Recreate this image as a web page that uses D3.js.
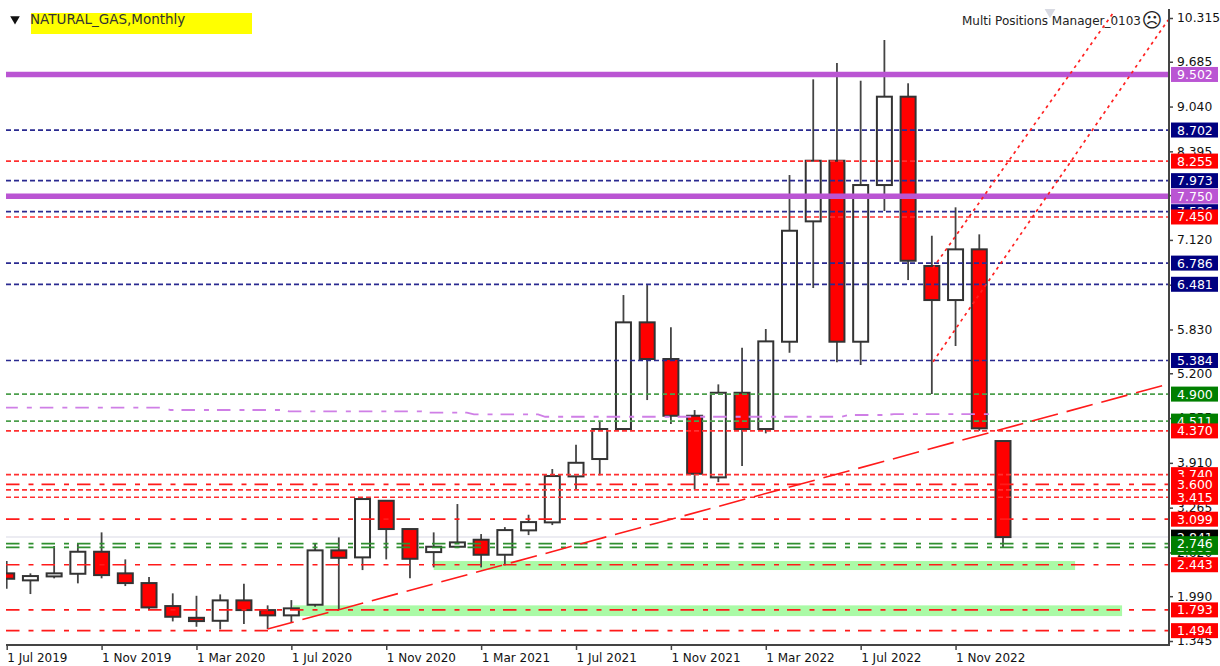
<!DOCTYPE html>
<html>
<head>
<meta charset="utf-8">
<script src="https://cdnjs.cloudflare.com/ajax/libs/d3/7.8.5/d3.min.js"></script>
<style>
  html, body { margin: 0; padding: 0; background: #fff; }
  svg { display: block; }
  text { font-family: "DejaVu Sans", sans-serif; }
</style>
</head>
<body>
<svg id="chart" width="1220" height="666"></svg>
<script>
// monthly candles, Jul 2019 to Jan 2023
const months = ["1 Jul 2019","1 Aug 2019","1 Sep 2019","1 Oct 2019","1 Nov 2019","1 Dec 2019",
  "1 Jan 2020","1 Feb 2020","1 Mar 2020","1 Apr 2020","1 May 2020","1 Jun 2020","1 Jul 2020","1 Aug 2020","1 Sep 2020","1 Oct 2020","1 Nov 2020","1 Dec 2020",
  "1 Jan 2021","1 Feb 2021","1 Mar 2021","1 Apr 2021","1 May 2021","1 Jun 2021","1 Jul 2021","1 Aug 2021","1 Sep 2021","1 Oct 2021","1 Nov 2021","1 Dec 2021",
  "1 Jan 2022","1 Feb 2022","1 Mar 2022","1 Apr 2022","1 May 2022","1 Jun 2022","1 Jul 2022","1 Aug 2022","1 Sep 2022","1 Oct 2022","1 Nov 2022","1 Dec 2022",
  "1 Jan 2023"];
const opens = [2.319,2.218,2.275,2.313,2.630,2.319,2.179,1.848,1.679,1.636,1.930,1.790,1.714,1.867,2.650,2.549,3.364,2.957,
  2.625,2.702,2.803,2.587,2.938,3.053,3.715,3.965,4.397,5.933,5.405,4.588,
  3.701,4.919,4.397,5.654,7.387,8.260,5.654,7.910,9.182,6.744,6.254,6.984,4.224];
const highs = [2.496,2.319,2.712,2.751,2.909,2.520,2.265,2.031,1.996,2.016,2.169,1.858,1.934,2.751,2.837,3.389,3.364,2.957,
  2.909,3.317,2.885,2.985,3.163,3.821,4.171,4.516,6.326,6.470,5.861,4.670,
  5.040,5.567,5.837,8.054,9.432,9.667,9.412,9.998,9.375,7.180,7.589,7.200,4.224];
const lows = [2.097,2.021,2.247,2.175,2.247,2.136,1.800,1.627,1.550,1.512,1.589,1.517,1.607,1.838,1.805,2.366,2.520,2.247,
  2.405,2.683,2.405,2.434,2.870,3.014,3.528,3.730,4.370,4.814,4.469,3.528,
  3.633,3.864,4.335,5.495,6.427,5.357,5.318,7.536,6.542,4.901,5.592,4.372,2.693];
const closes = [2.241,2.280,2.319,2.630,2.294,2.179,1.829,1.694,1.632,1.930,1.790,1.714,1.815,2.650,2.543,3.389,2.957,2.529,
  2.702,2.765,2.587,2.942,3.057,3.720,3.911,4.397,5.933,5.405,4.588,3.753,
  4.919,4.397,5.659,7.252,8.260,5.654,7.910,9.182,6.820,6.254,6.984,4.407,2.841];

const priceTicks = [10.315,9.685,9.040,8.395,7.765,7.120,6.475,5.830,5.200,4.555,3.910,3.265,2.620,1.990,1.345];

// horizontal levels, label order is the stacking order on the right
const purpleLevels = [9.502,7.750];
const navyLevels = [8.702,7.973,7.526,6.786,6.481,5.384];
const redDashLevels = [8.255,7.450,4.370,3.740,3.520,3.415];
const redLongLevels = [3.600,3.099,2.443,1.793,1.494];
const greenDashLevels = [4.900,4.511];
const greenLongLevels = [2.693,2.746];
const lastPrice = 2.841;

// bar index / price pairs
const trendMain = [[11,1.517],[48.96,5.045]];
const channelLow = [[39.05,5.366],[48.96,10.286]];
const channelHigh = [[39.05,6.715],[46.64,10.387]];
const purpleStepIdx = [-0.1,6.6,6.9,11.6,11.9,17.5,17.8,19.4,19.7,22.4,22.7,35.2,35.5,37.1,37.4,41.6];
const purpleStepPrice = [4.704,4.704,4.671,4.671,4.652,4.652,4.632,4.632,4.609,4.609,4.574,4.574,4.599,4.599,4.613,4.613];
const zoneIdx = [[18,45.04],[12.07,47.02]];
const zonePrice = [[2.496,2.367],[1.858,1.704]];

const svg = d3.select("#chart");
const plotLeft = 6, plotRight = 1169, plotTop = 9, plotBottom = 645;

const x = d3.scaleLinear().domain([0, 42]).range([6.7, 1003]);
const y = d3.scaleLinear().domain([1.345, 10.315]).range([641, 18]);

svg.append("clipPath").attr("id", "plot").append("rect")
  .attr("x", plotLeft).attr("y", plotTop)
  .attr("width", plotRight - plotLeft).attr("height", plotBottom - plotTop);

const plot = svg.append("g").attr("clip-path", "url(#plot)");

// green zones sit behind the candles
plot.selectAll("rect.zone")
  .data(zoneIdx)
  .enter()
  .append("rect")
  .attr("class", "zone")
  .attr("x", d => x(d[0]))
  .attr("width", d => x(d[1]) - x(d[0]))
  .attr("y", (d, i) => y(zonePrice[i][0]))
  .attr("height", (d, i) => y(zonePrice[i][1]) - y(zonePrice[i][0]))
  .attr("fill", "#aafaa6");

// current price line
plot.append("line")
  .attr("x1", plotLeft).attr("x2", plotRight)
  .attr("y1", y(lastPrice)).attr("y2", y(lastPrice))
  .attr("stroke", "#e6e6ee").attr("stroke-width", 1.5);

// candles
const bodyWidth = 15;
const candles = plot.selectAll("g.candle")
  .data(months)
  .enter()
  .append("g")
  .attr("class", "candle");

candles.append("line")
  .attr("x1", (d, i) => x(i)).attr("x2", (d, i) => x(i))
  .attr("y1", (d, i) => y(highs[i])).attr("y2", (d, i) => y(lows[i]))
  .attr("stroke", "#444").attr("stroke-width", 1.8);

candles.append("rect")
  .attr("x", (d, i) => x(i) - bodyWidth / 2)
  .attr("width", bodyWidth)
  .attr("y", (d, i) => y(Math.max(opens[i], closes[i])))
  .attr("height", (d, i) => Math.abs(y(opens[i]) - y(closes[i])))
  .attr("fill", (d, i) => closes[i] < opens[i] ? "#ff0000" : "#ffffff")
  .attr("stroke", "#333").attr("stroke-width", 2);

// levels
const longDash = "13.5 9 5 8";
const levelStyles = [
  { levels: greenDashLevels, color: "#4c9f4c", dash: "5 3", width: 1.7, box: "#007f00" },
  { levels: navyLevels, color: "#2a2a90", dash: "5 3", width: 1.7, box: "#000080" },
  { levels: redDashLevels, color: "#ff3030", dash: "5 3", width: 1.7, box: "#ff0000" },
  { levels: redLongLevels, color: "#ff1a1a", dash: longDash, width: 1.7, box: "#ff0000" },
  { levels: greenLongLevels, color: "#2f8f2f", dash: longDash, width: 1.7, box: "#007f00" },
  { levels: purpleLevels, color: "#ba55d3", dash: null, width: 5.5, box: "#ba55d3" }
];

levelStyles.forEach(function (s) {
  plot.selectAll(null)
    .data(s.levels)
    .enter()
    .append("line")
    .attr("x1", plotLeft).attr("x2", plotRight)
    .attr("y1", d => y(d)).attr("y2", d => y(d))
    .attr("stroke", s.color)
    .attr("stroke-width", s.width)
    .attr("stroke-dasharray", s.dash);
});

// thin purple stepped line
const purpleLine = d3.line().x(d => x(d)).y((d, i) => y(purpleStepPrice[i]));
plot.append("path")
  .attr("d", purpleLine(purpleStepIdx))
  .attr("fill", "none")
  .attr("stroke", "#cf7fe6").attr("stroke-width", 1.8)
  .attr("stroke-dasharray", longDash);

// trend lines
const trend = d3.line().x(d => x(d[0])).y(d => y(d[1]));
plot.append("path")
  .attr("d", trend(trendMain))
  .attr("fill", "none")
  .attr("stroke", "#ff1a1a").attr("stroke-width", 1.6)
  .attr("stroke-dasharray", "27 9");
[channelLow, channelHigh].forEach(function (c) {
  plot.append("path")
    .attr("d", trend(c))
    .attr("fill", "none")
    .attr("stroke", "#ff2020").attr("stroke-width", 1.7)
    .attr("stroke-dasharray", "3 4");
});

// axes
const axisColor = "#444";
const yAxis = svg.append("g")
  .attr("transform", "translate(" + plotRight + ",0)")
  .call(d3.axisRight(y).tickValues(priceTicks).tickFormat(d3.format(".3f")).tickSize(4).tickPadding(4));
yAxis.select(".domain").remove();
yAxis.selectAll("line").attr("stroke", axisColor).attr("stroke-width", 1.5);
yAxis.selectAll("text").attr("font-size", 12.3).attr("fill", "#111")
  .attr("font-family", "DejaVu Sans");

const xAxis = svg.append("g")
  .attr("transform", "translate(0," + plotBottom + ")")
  .call(d3.axisBottom(x)
    .tickValues(d3.range(0, 43, 4))
    .tickFormat(i => months[i])
    .tickSize(5).tickPadding(3));
xAxis.select(".domain").remove();
xAxis.selectAll("line").attr("stroke", axisColor).attr("stroke-width", 1.5);
xAxis.selectAll("text").attr("font-size", 12).attr("fill", "#111")
  .attr("font-family", "DejaVu Sans")
  .attr("text-anchor", "start");

svg.append("path")
  .attr("d", d3.line()([[plotLeft, plotBottom], [plotRight, plotBottom], [plotRight, plotTop]]))
  .attr("fill", "none").attr("stroke", axisColor).attr("stroke-width", 2);

// price labels on the right, later ones cover earlier ones
const labelList = [{ v: lastPrice, box: "#000000" }];
[1, 0].forEach(i => levelStyles[i].levels.forEach(v => labelList.push({ v: v, box: levelStyles[i].box })));
greenLongLevels.forEach(v => labelList.push({ v: v, box: "#007f00" }));
[3.740, 3.520, 3.415, 3.600, 8.255, 7.450, 4.370, 3.099, 2.443, 1.793, 1.494]
  .forEach(v => labelList.push({ v: v, box: "#ff0000" }));
purpleLevels.forEach(v => labelList.push({ v: v, box: "#ba55d3" }));

const labels = svg.selectAll("g.label")
  .data(labelList)
  .enter()
  .append("g")
  .attr("class", "label")
  .attr("transform", d => "translate(1171," + y(d.v) + ")");

labels.append("rect")
  .attr("x", 0).attr("y", -7.5)
  .attr("width", 47).attr("height", 15)
  .attr("fill", d => d.box);

labels.append("text")
  .attr("x", 6).attr("y", 0).attr("dy", "0.36em")
  .attr("font-size", 12.5)
  .attr("fill", "#fff")
  .text(d => d3.format(".3f")(d.v));

// header
svg.append("path")
  .attr("d", d3.symbol().type(d3.symbolTriangle).size(40)())
  .attr("transform", "translate(15,19) rotate(180)")
  .attr("fill", "#111");
svg.append("rect")
  .attr("x", 31).attr("y", 13).attr("width", 221).attr("height", 21)
  .attr("fill", "#ffff00");
svg.append("text")
  .attr("x", 30).attr("y", 24)
  .attr("font-size", 13.5).attr("fill", "#333")
  .text("NATURAL_GAS,Monthly");

svg.append("path")
  .attr("d", d3.symbol().type(d3.symbolTriangle).size(50)())
  .attr("transform", "translate(1050,12) rotate(180)")
  .attr("fill", "#d8dae2");
svg.append("text")
  .attr("x", 1141).attr("y", 25)
  .attr("text-anchor", "end")
  .attr("font-size", 12).attr("fill", "#222")
  .text("Multi Positions Manager_0103");
svg.append("text")
  .attr("x", 1152).attr("y", 27)
  .attr("text-anchor", "middle")
  .attr("font-size", 20).attr("fill", "#222")
  .text("\u2639");
</script>
</body>
</html>
